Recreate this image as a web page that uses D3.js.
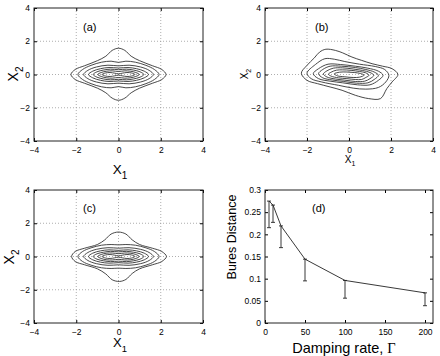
<!DOCTYPE html>
<html>
<head>
<meta charset="utf-8">
<script src="https://cdn.jsdelivr.net/npm/d3@7"></script>
<style>
  body { margin: 0; background: #fff; }
  svg { display: block; font-family: "Liberation Sans", Arial, sans-serif; }
</style>
</head>
<body>
<svg id="fig" width="440" height="356"></svg>
<script>
// phase-space contours (X1, X2) for panels a, b, c -- one closed loop per level
const contoursA = [
  [[2.25,0],[2.05,0.3],[1.6,0.53],[1.0,0.83],[0.6,1.1],[0.3,1.45],[0,1.58],[-0.3,1.45],[-0.6,1.1],[-1.0,0.83],[-1.6,0.53],[-2.05,0.3],[-2.25,0],[-2.05,-0.3],[-1.6,-0.53],[-1.0,-0.82],[-0.6,-1.1],[-0.3,-1.42],[0,-1.55],[0.3,-1.42],[0.6,-1.1],[1.0,-0.82],[1.6,-0.53],[2.05,-0.3]],
  [[1.92,0],[1.7,0.3],[1.3,0.55],[0.8,0.74],[0.35,0.8],[0,0.73],[-0.35,0.8],[-0.8,0.74],[-1.3,0.55],[-1.7,0.3],[-1.92,0],[-1.7,-0.3],[-1.3,-0.55],[-0.8,-0.74],[-0.35,-0.8],[0,-0.73],[0.35,-0.8],[0.8,-0.74],[1.3,-0.55],[1.7,-0.3]],
  [[1.65,0],[1.45,0.25],[1.05,0.45],[0.5,0.56],[0,0.52],[-0.5,0.56],[-1.05,0.45],[-1.45,0.25],[-1.65,0],[-1.45,-0.25],[-1.05,-0.45],[-0.5,-0.56],[0,-0.52],[0.5,-0.56],[1.05,-0.45],[1.45,-0.25]],
  [[1.42,0],[1.22,0.2],[0.85,0.35],[0.45,0.42],[0,0.39],[-0.45,0.42],[-0.85,0.35],[-1.22,0.2],[-1.42,0],[-1.22,-0.2],[-0.85,-0.35],[-0.45,-0.42],[0,-0.39],[0.45,-0.42],[0.85,-0.35],[1.22,-0.2]],
  [[1.2,0],[1.02,0.16],[0.7,0.27],[0.38,0.32],[0,0.29],[-0.38,0.32],[-0.7,0.27],[-1.02,0.16],[-1.2,0],[-1.02,-0.16],[-0.7,-0.27],[-0.38,-0.32],[0,-0.29],[0.38,-0.32],[0.7,-0.27],[1.02,-0.16]],
  [[0.98,0],[0.82,0.12],[0.55,0.2],[0.3,0.22],[0,0.18],[-0.3,0.22],[-0.55,0.2],[-0.82,0.12],[-0.98,0],[-0.82,-0.12],[-0.55,-0.2],[-0.3,-0.22],[0,-0.18],[0.3,-0.22],[0.55,-0.2],[0.82,-0.12]],
  [[0.78,0],[0.62,0.09],[0.4,0.12],[0.18,0.08],[0,0.04],[-0.18,0.08],[-0.4,0.12],[-0.62,0.09],[-0.78,0],[-0.62,-0.09],[-0.4,-0.12],[-0.18,-0.08],[0,-0.04],[0.18,-0.08],[0.4,-0.12],[0.62,-0.09]]
];

const contoursB = [
  [[2.33,0],[2.05,0.35],[1.6,0.5],[1.1,0.65],[0.6,0.85],[0.14,1.05],[-0.3,1.3],[-0.65,1.45],[-1.1,1.52],[-1.4,1.35],[-1.65,1.0],[-2.0,0.55],[-2.27,0.08],[-2.0,-0.35],[-1.5,-0.55],[-0.9,-0.75],[-0.33,-0.95],[0.3,-1.25],[0.94,-1.45],[1.5,-1.45],[1.8,-0.85],[2.05,-0.45]],
  [[1.9,-0.05],[1.7,0.3],[1.25,0.48],[0.5,0.62],[-0.2,0.78],[-0.7,0.92],[-1.15,0.95],[-1.6,0.6],[-2.0,0.08],[-1.8,-0.25],[-1.3,-0.45],[-0.5,-0.65],[0.2,-0.82],[0.8,-0.88],[1.4,-0.78],[1.75,-0.45]],
  [[1.62,-0.05],[1.4,0.2],[0.9,0.38],[0.3,0.5],[-0.4,0.6],[-1.0,0.62],[-1.45,0.35],[-1.7,0.05],[-1.45,-0.25],[-0.9,-0.4],[-0.3,-0.5],[0.4,-0.62],[1.0,-0.62],[1.4,-0.35]],
  [[1.4,-0.05],[1.2,0.15],[0.8,0.3],[0.3,0.42],[-0.35,0.5],[-0.9,0.5],[-1.25,0.3],[-1.45,0.05],[-1.25,-0.2],[-0.8,-0.33],[-0.25,-0.42],[0.35,-0.52],[0.9,-0.5],[1.2,-0.3]],
  [[1.18,-0.05],[1.0,0.12],[0.65,0.24],[0.2,0.33],[-0.3,0.4],[-0.75,0.38],[-1.05,0.22],[-1.22,0.03],[-1.05,-0.15],[-0.65,-0.27],[-0.2,-0.34],[0.3,-0.42],[0.75,-0.4],[1.0,-0.25]],
  [[0.95,-0.05],[0.8,0.1],[0.5,0.18],[0.1,0.25],[-0.3,0.28],[-0.6,0.26],[-0.85,0.14],[-0.98,0.02],[-0.85,-0.1],[-0.5,-0.2],[-0.1,-0.25],[0.3,-0.3],[0.6,-0.3],[0.8,-0.18]],
  [[0.72,-0.04],[0.55,0.06],[0.25,0.12],[-0.1,0.15],[-0.45,0.14],[-0.7,0.04],[-0.55,-0.08],[-0.2,-0.14],[0.2,-0.18],[0.5,-0.16]]
];

const contoursC = [
  [[2.27,0],[2.05,0.3],[1.6,0.5],[1.0,0.72],[0.65,1.0],[0.35,1.35],[0,1.47],[-0.35,1.35],[-0.65,1.0],[-1.0,0.72],[-1.6,0.5],[-2.05,0.3],[-2.22,0],[-2.05,-0.3],[-1.6,-0.5],[-1.0,-0.74],[-0.6,-1.05],[-0.3,-1.4],[0.05,-1.5],[0.35,-1.38],[0.65,-1.02],[1.0,-0.74],[1.6,-0.5],[2.05,-0.3]],
  [[1.92,0],[1.7,0.3],[1.3,0.52],[0.8,0.68],[0.35,0.72],[0,0.7],[-0.35,0.72],[-0.8,0.68],[-1.3,0.52],[-1.7,0.3],[-1.92,0],[-1.7,-0.3],[-1.3,-0.52],[-0.8,-0.68],[-0.35,-0.72],[0,-0.7],[0.35,-0.72],[0.8,-0.68],[1.3,-0.52],[1.7,-0.3]],
  [[1.65,0],[1.45,0.24],[1.05,0.43],[0.5,0.53],[0,0.5],[-0.5,0.53],[-1.05,0.43],[-1.45,0.24],[-1.65,0],[-1.45,-0.24],[-1.05,-0.43],[-0.5,-0.53],[0,-0.5],[0.5,-0.53],[1.05,-0.43],[1.45,-0.24]],
  [[1.42,0],[1.22,0.2],[0.85,0.34],[0.45,0.4],[0,0.37],[-0.45,0.4],[-0.85,0.34],[-1.22,0.2],[-1.42,0],[-1.22,-0.2],[-0.85,-0.34],[-0.45,-0.4],[0,-0.37],[0.45,-0.4],[0.85,-0.34],[1.22,-0.2]],
  [[1.2,0],[1.02,0.16],[0.7,0.26],[0.38,0.31],[0,0.28],[-0.38,0.31],[-0.7,0.26],[-1.02,0.16],[-1.2,0],[-1.02,-0.16],[-0.7,-0.26],[-0.38,-0.31],[0,-0.28],[0.38,-0.31],[0.7,-0.26],[1.02,-0.16]],
  [[0.98,0],[0.82,0.12],[0.55,0.2],[0.3,0.21],[0,0.17],[-0.3,0.21],[-0.55,0.2],[-0.82,0.12],[-0.98,0],[-0.82,-0.12],[-0.55,-0.2],[-0.3,-0.21],[0,-0.17],[0.3,-0.21],[0.55,-0.2],[0.82,-0.12]],
  [[0.78,0],[0.62,0.09],[0.4,0.12],[0.18,0.08],[0,0.04],[-0.18,0.08],[-0.4,0.12],[-0.62,0.09],[-0.78,0],[-0.62,-0.09],[-0.4,-0.12],[-0.18,-0.08],[0,-0.04],[0.18,-0.08],[0.4,-0.12],[0.62,-0.09]]
];

// panel d: Bures distance vs damping rate (lower error bars only)
const gammaVals = [5, 10, 20, 50, 100, 200];
const buresDist = [0.275, 0.266, 0.219, 0.144, 0.096, 0.068];
const buresLow  = [0.215, 0.227, 0.170, 0.095, 0.056, 0.039];

const phaseTicks = [-4, -2, 0, 2, 4];
const gridVals = [-2, 0, 2];
const gammaTicks = [0, 50, 100, 150, 200];
const buresTicks = [0, 0.05, 0.1, 0.15, 0.2, 0.25, 0.3];

const svg = d3.select("#fig");
const tickFont = 8.5;

function frame(box, x, y, xt, yt, fmtX, fmtY) {
  const g = svg.append("g");
  const clean = s => { s.select(".domain").remove(); s.attr("font-family", null).attr("font-size", tickFont); };
  g.append("g").attr("transform", "translate(0," + box.y1 + ")")
    .call(d3.axisBottom(x).tickValues(xt).tickSize(-3).tickPadding(5.5).tickFormat(fmtX)).call(clean);
  g.append("g").attr("transform", "translate(0," + box.y0 + ")")
    .call(d3.axisTop(x).tickValues(xt).tickSize(-3).tickFormat("")).call(clean);
  g.append("g").attr("transform", "translate(" + box.x0 + ",0)")
    .call(d3.axisLeft(y).tickValues(yt).tickSize(-3).tickPadding(4).tickFormat(fmtY)).call(clean);
  g.append("g").attr("transform", "translate(" + box.x1 + ",0)")
    .call(d3.axisRight(y).tickValues(yt).tickSize(-3).tickFormat("")).call(clean);
  g.append("rect")
    .attr("x", box.x0).attr("y", box.y0)
    .attr("width", box.x1 - box.x0).attr("height", box.y1 - box.y0)
    .attr("fill", "none").attr("stroke", "#222").attr("stroke-width", 1);
  return g;
}

function contourPanel(box, contours, tag) {
  const x = d3.scaleLinear().domain([-4, 4]).range([box.x0, box.x1]);
  const y = d3.scaleLinear().domain([-4, 4]).range([box.y1, box.y0]);
  const g = svg.append("g");
  // dotted grid
  g.selectAll("line.gx").data(gridVals).join("line")
    .attr("x1", d => x(d)).attr("x2", d => x(d))
    .attr("y1", box.y0).attr("y2", box.y1);
  g.selectAll("line.gy").data(gridVals).join("line")
    .attr("y1", d => y(d)).attr("y2", d => y(d))
    .attr("x1", box.x0).attr("x2", box.x1);
  g.selectAll("line").attr("stroke", "#999").attr("stroke-width", 0.8).attr("stroke-dasharray", "1,2");

  const line = d3.line().x(d => x(d[0])).y(d => y(d[1]))
    .curve(d3.curveCatmullRomClosed.alpha(0.5));
  g.selectAll("path.ct").data(contours).join("path")
    .attr("class", "ct")
    .attr("d", line)
    .attr("fill", "none").attr("stroke", "#333").attr("stroke-width", 0.9);

  frame(box, x, y, phaseTicks, phaseTicks, d3.format("d"), d3.format("d"));

  svg.append("text").attr("x", box.x0 + tag.dx).attr("y", box.y0 + tag.dy)
    .attr("font-size", 11).text(tag.label);
}

function axisLabel(x, y, rot, size, main, sub, subSize, subDy) {
  const t = svg.append("text")
    .attr("transform", "translate(" + x + "," + y + ")" + (rot ? " rotate(-90)" : ""))
    .attr("text-anchor", "middle").attr("font-size", size);
  t.append("tspan").text(main);
  t.append("tspan").attr("font-size", subSize).attr("dy", subDy).text(sub);
}

const boxA = {x0: 34, x1: 203, y0: 8, y1: 141};
const boxB = {x0: 265, x1: 433, y0: 8, y1: 141};
const boxC = {x0: 34, x1: 203, y0: 190, y1: 323};
const boxD = {x0: 265, x1: 433, y0: 190, y1: 323};

contourPanel(boxA, contoursA, {label: "(a)", dx: 49, dy: 23});
contourPanel(boxB, contoursB, {label: "(b)", dx: 50, dy: 23});
contourPanel(boxC, contoursC, {label: "(c)", dx: 49, dy: 22});

axisLabel(120, 174, false, 13.5, "X", "1", 10, 5);
axisLabel(18, 74, true, 14, "X", "2", 10, 5);
axisLabel(350, 163, false, 10, "X", "1", 7, 3);
axisLabel(248, 74, true, 10, "X", "2", 7, 3);
axisLabel(120, 347, false, 13, "X", "1", 9.5, 4.5);
axisLabel(14, 257, true, 14, "X", "2", 10, 5);

// panel d
const xd = d3.scaleLinear().domain([0, 210]).range([boxD.x0, boxD.x1]);
const yd = d3.scaleLinear().domain([0, 0.3]).range([boxD.y1, boxD.y0]);
const dData = gammaVals.map((g, i) => ({g: g, v: buresDist[i], lo: buresLow[i]}));

const gd = svg.append("g");
gd.append("path").datum(dData)
  .attr("d", d3.line().x(d => xd(d.g)).y(d => yd(d.v)))
  .attr("fill", "none").attr("stroke", "#222").attr("stroke-width", 0.9);
const eb = gd.selectAll("g.eb").data(dData).join("g").attr("class", "eb")
  .attr("stroke", "#222").attr("stroke-width", 0.9);
eb.append("line").attr("x1", d => xd(d.g)).attr("x2", d => xd(d.g))
  .attr("y1", d => yd(d.v)).attr("y2", d => yd(d.lo));
eb.append("line").attr("x1", d => xd(d.g) - 2).attr("x2", d => xd(d.g) + 2)
  .attr("y1", d => yd(d.v)).attr("y2", d => yd(d.v));
eb.append("line").attr("x1", d => xd(d.g) - 2).attr("x2", d => xd(d.g) + 2)
  .attr("y1", d => yd(d.lo)).attr("y2", d => yd(d.lo));

frame(boxD, xd, yd, gammaTicks, buresTicks, d3.format("d"), d3.format("~g"));

svg.append("text").attr("x", 312).attr("y", 212).attr("font-size", 11).text("(d)");
svg.append("text").attr("transform", "translate(236,237) rotate(-90)")
  .attr("text-anchor", "middle").attr("font-size", 12.5).text("Bures Distance");
const dl = svg.append("text").attr("x", 344).attr("y", 353)
  .attr("text-anchor", "middle").attr("font-size", 14.5);
dl.append("tspan").text("Damping rate, ");
dl.append("tspan").attr("font-family", "'Liberation Serif', serif").text("Γ");
</script>
</body>
</html>
